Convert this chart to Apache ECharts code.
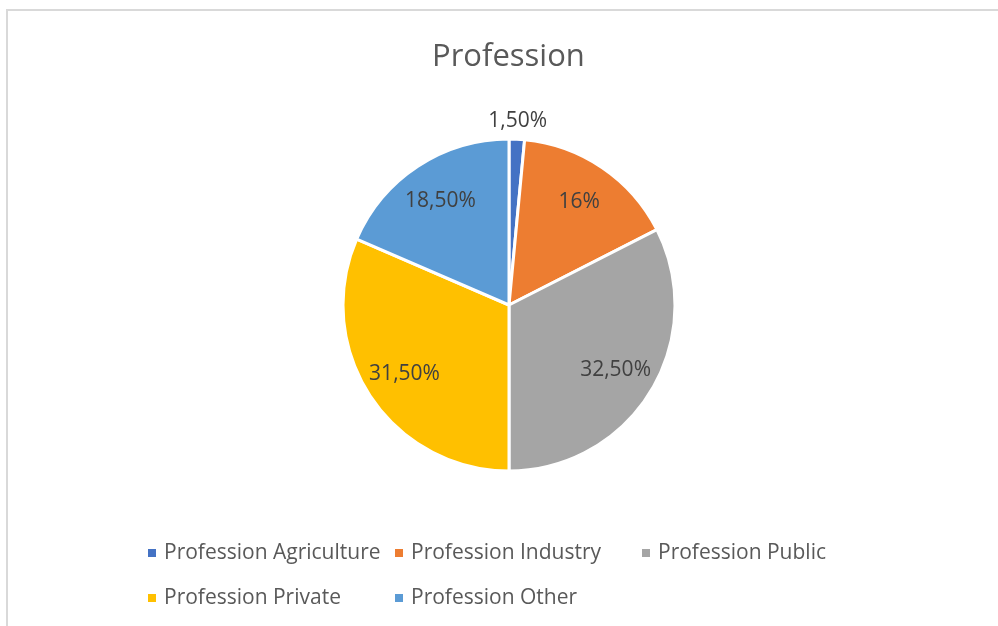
<!DOCTYPE html>
<html lang="en">
  <head>
    <meta charset="utf-8" />
    <title>Profession</title>
    <script type="text/javascript" src="https://cdn.jsdelivr.net/npm/echarts@6/dist/echarts.min.js"></script>
    <style>
      html, body { margin: 0; padding: 0; background: #fff; overflow: hidden; }
      #chart { position: absolute; left: 0; top: 0; width: 998px; height: 626px; }
      #frame {
        position: absolute; left: 6px; top: 9px; width: 1100px; height: 700px;
        border-top: 2px solid #d9d9d9; border-left: 2px solid #d9d9d9;
        pointer-events: none;
      }
    </style>
  </head>
  <body>
    <div id="chart"></div>
    <div id="frame"></div>
    <script>
      var categories = ['Profession Agriculture', 'Profession Industry', 'Profession Public', 'Profession Private', 'Profession Other']
      var shares = [1.5, 16, 32.5, 31.5, 18.5]
      var colors = ['#4472c4', '#ed7d31', '#a5a5a5', '#ffc000', '#5b9bd5']

      var font = '"Open Sans", "DejaVu Sans", sans-serif'

      // 1,50% / 16% like the spreadsheet shows it
      function pct (v) {
        return (Number.isInteger(v) ? String(v) : v.toFixed(2).replace('.', ',')) + '%'
      }

      function items (labelFor) {
        return categories.map(function (name, i) {
          var d = { name: name, value: shares[i] }
          if (labelFor) d.label = { show: labelFor(i) }
          return d
        })
      }

      var chart = echarts.init(document.getElementById('chart'))
      var center = [509, 305]
      var r = 166

      chart.setOption({
        animation: false,
        color: colors,
        title: {
          text: 'Profession',
          left: 427,
          top: 37,
          textStyle: { fontFamily: font, fontSize: 31, fontWeight: 'normal', color: '#595959' }
        },
        legend: {
          data: categories,
          left: 141,
          top: 530,
          width: 760,
          icon: 'rect',
          itemWidth: 10,
          itemHeight: 10,
          itemGap: 9,
          textStyle: {
            fontFamily: font, fontSize: 21, color: '#595959',
            width: 220, height: 36, lineHeight: 36, padding: [0, 0, 0, 2]
          }
        },
        series: [
          {
            type: 'pie',
            center: center,
            radius: [0, r],
            startAngle: 90,
            silent: true,
            emphasis: { disabled: true },
            itemStyle: { borderColor: '#fff', borderWidth: 3 },
            label: { show: false },
            labelLine: { show: false },
            data: items()
          },
          {
            // label ring for the big slices
            type: 'pie',
            center: center,
            radius: [0, 244],
            startAngle: 90,
            silent: true,
            emphasis: { disabled: true },
            itemStyle: { color: 'transparent' },
            label: {
              position: 'inside',
              fontFamily: font, fontSize: 21, color: '#404040',
              formatter: function (p) { return pct(p.value) }
            },
            labelLine: { show: false },
            data: items(function (i) { return i !== 0 })
          },
          {
            // the thin slice gets its label above the pie
            type: 'pie',
            center: center,
            radius: [171, 191],
            startAngle: 90,
            silent: true,
            emphasis: { disabled: true },
            itemStyle: { color: 'transparent' },
            label: {
              position: 'inside',
              fontFamily: font, fontSize: 21, color: '#404040',
              formatter: function (p) { return pct(p.value) }
            },
            labelLine: { show: false },
            data: items(function (i) { return i === 0 })
          }
        ]
      })
    </script>
  </body>
</html>
